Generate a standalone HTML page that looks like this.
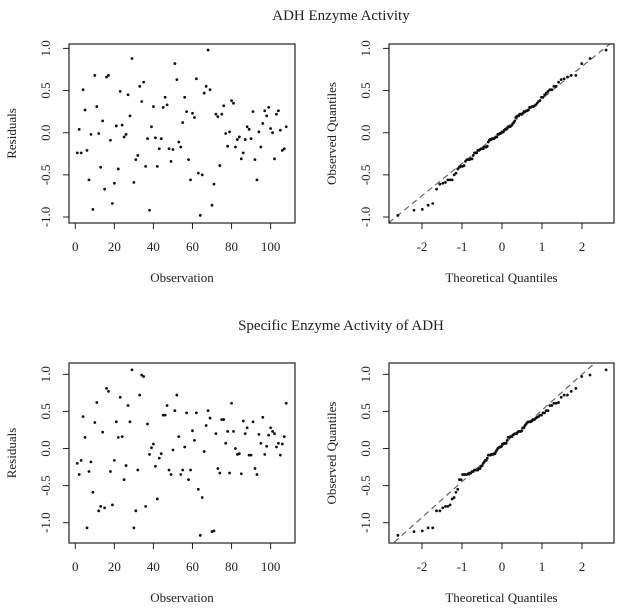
<!DOCTYPE html>
<html><head><meta charset="utf-8"><style>
body{margin:0;background:#fff}
svg{font-family:"Liberation Serif",serif}
</style></head><body>
<svg id="c" width="624" height="608"></svg>
<script>
const adhResiduals=[-0.24,0.04,-0.24,0.51,0.27,-0.21,-0.56,-0.02,-0.91,0.68,0.31,-0.01,-0.41,0.14,-0.67,0.66,0.68,-0.09,-0.84,-0.6,0.08,-0.43,0.49,0.09,-0.05,-0.02,0.45,0.2,0.88,-0.59,-0.32,-0.27,0.55,0.37,0.6,-0.4,-0.07,-0.92,0.07,0.31,-0.06,-0.4,-0.19,-0.07,0.3,0.42,0.33,-0.19,-0.34,-0.2,0.82,0.63,-0.11,-0.17,0.12,0.42,0.25,-0.32,-0.56,0.23,0.18,0.64,-0.48,-0.98,-0.5,0.47,0.55,0.98,0.51,-0.86,-0.61,0.22,0.19,-0.39,0.22,0.32,-0.01,-0.16,0.01,0.38,0.35,-0.17,-0.08,-0.05,-0.31,-0.24,-0.08,0.07,0.04,-0.07,0.25,-0.32,-0.56,0.01,-0.17,0.11,0.26,0.2,0.3,0.05,0.0,-0.31,0.22,0.26,0.03,-0.21,-0.19,0.07];
const specResiduals=[-0.2,-0.35,-0.16,0.43,0.15,-1.07,-0.31,-0.18,-0.59,0.35,0.62,-0.84,-0.78,0.22,-0.8,0.81,0.77,-0.31,-0.76,-0.16,0.36,0.15,0.69,0.16,-0.42,-0.23,0.58,0.36,1.06,-1.07,-0.84,-0.29,0.72,0.99,0.97,-0.78,0.33,-0.08,0.01,0.06,-0.24,-0.68,-0.13,-0.07,0.45,0.45,0.58,-0.29,-0.35,-0.02,0.51,0.72,0.16,-0.35,-0.29,0.02,0.48,-0.42,-0.29,0.24,0.11,0.48,-0.55,-1.17,-0.66,-0.04,0.31,0.51,0.41,-1.12,-1.11,0.2,-0.27,-0.33,0.39,0.39,0.07,0.23,-0.33,0.61,0.23,0.0,-0.08,-0.07,-0.34,0.37,0.2,0.28,-0.09,-0.09,0.36,-0.27,-0.35,0.19,0.07,0.42,-0.08,0.03,0.18,0.28,0.23,0.2,0.02,0.07,-0.09,0.06,0.16,0.61];
const obsTicks=[0,20,40,60,80,100];
const qTicks=[-2,-1,0,1,2];
const yTicks=[-1.0,-0.5,0.0,0.5,1.0];
const yTickLabels=["-1.0","-0.5","0.0","0.5","1.0"];

const svg=document.getElementById('c');
const NS='http://www.w3.org/2000/svg';
function mk(t,a,p){const e=document.createElementNS(NS,t);for(const k in a)e.setAttribute(k,a[k]);(p||svg).appendChild(e);return e;}
function qnorm(p){
const a=[-39.6968302866538,220.946098424521,-275.928510446969,138.357751867269,-30.6647980661472,2.50662827745924],b=[-54.4760987982241,161.585836858041,-155.698979859887,66.8013118877197,-13.2806815528857],c=[-0.00778489400243029,-0.322396458041136,-2.40075827716184,-2.54973253934373,4.37466414146497,2.93816398269878],d=[0.00778469570904146,0.32246712907004,2.445134137143,3.75440866190742];
let q,r;if(p<0.02425){q=Math.sqrt(-2*Math.log(p));return(((((c[0]*q+c[1])*q+c[2])*q+c[3])*q+c[4])*q+c[5])/((((d[0]*q+d[1])*q+d[2])*q+d[3])*q+1);}
if(p>1-0.02425){q=Math.sqrt(-2*Math.log(1-p));return-(((((c[0]*q+c[1])*q+c[2])*q+c[3])*q+c[4])*q+c[5])/((((d[0]*q+d[1])*q+d[2])*q+d[3])*q+1);}
q=p-0.5;r=q*q;return(((((a[0]*r+a[1])*r+a[2])*r+a[3])*r+a[4])*r+a[5])*q/(((((b[0]*r+b[1])*r+b[2])*r+b[3])*r+b[4])*r+1);}
function quant(s,p){const h=(s.length-1)*p,l=Math.floor(h);return s[l]+(h-l)*(s[Math.min(l+1,s.length-1)]-s[l]);}

function panel(o){
 const g=mk('g',{});
 const X=v=>o.x0+(v-o.xv0)*o.xs, Y=v=>o.y0-v*o.ys;
 const cid='clip-'+o.name;
 const cp=mk('clipPath',{id:cid},g);mk('rect',{x:o.L,y:o.T,width:o.R-o.L,height:o.B-o.T},cp);
 if(o.line){const ln=mk('line',{x1:X(o.line[0]),y1:Y(o.line[1]),x2:X(o.line[2]),y2:Y(o.line[3]),stroke:'#666','stroke-width':1.2,'stroke-dasharray':'6,4','clip-path':'url(#'+cid+')'},g);}
 const pts=mk('g',{},g);
 o.px.forEach((xv,i)=>{const c=mk('circle',{cx:X(xv),cy:Y(o.py[i]),r:1.4,fill:'#111'},pts);});
 mk('rect',{x:o.L,y:o.T,width:o.R-o.L,height:o.B-o.T,fill:'none',stroke:'#222','stroke-width':1.2,},g);
 const xa=mk('g',{},g);
 o.xt.forEach(t=>{mk('line',{x1:X(t),x2:X(t),y1:o.B,y2:o.B+6,stroke:'#222'},xa);const tx=mk('text',{x:X(t),y:o.B+28,'text-anchor':'middle','font-size':13,fill:'#222'},xa);tx.textContent=t;});
 const ya=mk('g',{},g);
 yTicks.forEach((t,i)=>{mk('line',{x1:o.L,x2:o.L-6,y1:Y(t),y2:Y(t),stroke:'#222'},ya);const tx=mk('text',{x:o.L-22,y:Y(t),'text-anchor':'middle','dominant-baseline':'middle','font-size':13,fill:'#222',transform:`rotate(-90 ${o.L-22} ${Y(t)})`},ya);tx.textContent=yTickLabels[i];});
 const xtt=mk('text',{x:(o.L+o.R)/2,y:o.B+59,'text-anchor':'middle','font-size':13,fill:'#222',},g);xtt.textContent=o.xl;
 const yx=o.L-53,yy=(o.T+o.B)/2;
 const ytt=mk('text',{x:yx,y:yy,'text-anchor':'middle','font-size':13,fill:'#222',transform:`rotate(-90 ${yx} ${yy})`,},g);ytt.textContent=o.yl;
}
function qq(vals){const n=vals.length,s=[...vals].sort((p,q)=>p-q);const off=n<=10?3/8:0.5;const th=s.map((_,i)=>qnorm((i+1-off)/(n+1-2*off)));
 const y1=quant(s,.25),y2=quant(s,.75),x1=qnorm(.25),x2=qnorm(.75),sl=(y2-y1)/(x2-x1),ic=y1-sl*x1;return{th,s,line:[-4,ic-4*sl,4,ic+4*sl]};}
const idx=adhResiduals.map((_,i)=>i+1), idx2=specResiduals.map((_,i)=>i+1);
const topGeo={T:44,B:223,y0:132.7,ys:84.3}, botGeo={T:363,B:543,y0:448.5,ys:74.2};
panel(Object.assign({name:'adh-residuals-panel',L:69,R:295,x0:75.3,xv0:0,xs:1.953,px:idx,py:adhResiduals,xt:obsTicks,xl:'Observation',yl:'Residuals'},topGeo));
const q1=qq(adhResiduals);
panel(Object.assign({name:'adh-qq-panel',L:389,R:614,x0:502,xv0:0,xs:40,px:q1.th,py:q1.s,xt:qTicks,xl:'Theoretical Quantiles',yl:'Observed Quantiles',line:q1.line},topGeo));
panel(Object.assign({name:'specific-residuals-panel',L:69,R:295,x0:75.3,xv0:0,xs:1.953,px:idx2,py:specResiduals,xt:obsTicks,xl:'Observation',yl:'Residuals'},botGeo));
const q2=qq(specResiduals);
panel(Object.assign({name:'specific-qq-panel',L:389,R:614,x0:502,xv0:0,xs:40,px:q2.th,py:q2.s,xt:qTicks,xl:'Theoretical Quantiles',yl:'Observed Quantiles',line:q2.line},botGeo));
const t1=mk('text',{x:341,y:20,'text-anchor':'middle','font-size':15,fill:'#222',});t1.textContent='ADH Enzyme Activity';
const t2=mk('text',{x:341,y:330,'text-anchor':'middle','font-size':15,fill:'#222',});t2.textContent='Specific Enzyme Activity of ADH';
</script>
</body></html>
